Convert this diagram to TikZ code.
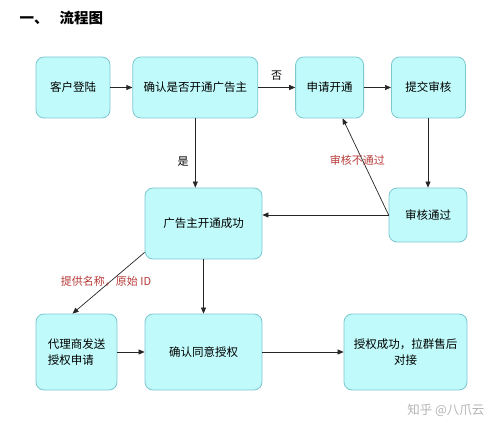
\documentclass[tikz,border=0pt]{standalone}
\usepackage{fontspec}
\setmainfont{Noto Sans CJK SC}
\usepackage{xcolor}
\usetikzlibrary{positioning,arrows.meta}
\definecolor{boxfill}{HTML}{C0FAFA}
\definecolor{boxline}{HTML}{7CC8D0}
\definecolor{notered}{HTML}{B83A3A}
\definecolor{markgray}{HTML}{B4B4B4}

\begin{document}
\begin{tikzpicture}[x=1pt, y=-1pt, node distance=22pt,
  box/.style={draw=boxline, fill=boxfill, rounded corners=8pt, line width=0.8pt,
    font=\fontsize{11.5}{16}\selectfont, align=center, inner sep=2pt},
  arr/.style={draw=black!85, line width=0.7pt, -{Triangle[length=6pt,width=5pt]}},
  note/.style={text=notered, font=\fontsize{11}{13}\selectfont, inner sep=1pt}]
\useasboundingbox (0,0) rectangle (500,430);
\node[font=\fontsize{14.5}{17}\selectfont\bfseries, anchor=west] (title) at (16,18) {一、\hspace{11pt}流程图};
\node[box, minimum width=74pt, minimum height=61pt] (login) at (73,87.5) {客户登陆};
\node[box, minimum width=125pt, minimum height=61pt, right=22pt of login] (confirm) {确认是否开通广告主};
\node[box, minimum width=68pt, minimum height=61pt, right=37pt of confirm] (apply) {申请开通};
\node[box, minimum width=74pt, minimum height=61pt, right=27pt of apply] (submit) {提交审核};
\node[box, minimum width=78pt, minimum height=54pt] (passed) at (428,215) {审核通过};
\node[box, minimum width=117pt, minimum height=71pt] (success) at (203.5,223.5) {广告主开通成功};
\node[box, minimum width=81pt, minimum height=76pt, align=left] (agent) at (76.5,352) {代理商发送\\授权申请};
\node[box, minimum width=117pt, minimum height=76pt] (agree) at (203.5,352) {确认同意授权};
\node[box, minimum width=123pt, minimum height=76pt] (done) at (405.5,352) {授权成功，拉群售后\\对接};
\node[text=markgray, font=\fontsize{12.5}{14}\selectfont, anchor=east] (mark) at (488,410) {知乎 @八爪云};
% connectors
\draw[arr] (login) -- (confirm);
\draw[arr] (confirm) -- node[above=3pt, font=\fontsize{11}{13}\selectfont] {否} (apply);
\draw[arr] (apply) -- (submit);
\draw[arr] (submit.south -| passed.north) -- (passed.north);
\draw[arr] (confirm.south) -- node[pos=0.63, left=3pt, font=\fontsize{11}{13}\selectfont] {是} (confirm.south |- success.north);
\draw[arr] (passed.west) -- (passed.west -| success.east);
\draw[arr] (passed.west) -- node[pos=0.57, xshift=-5pt, note] {审核不通过} ([xshift=13pt]apply.south);
\draw[arr] ([yshift=7pt]success.south west) -- node[pos=0.48, xshift=-4pt, note] {提供名称，原始 ID} ([xshift=-4pt]agent.north);
\draw[arr] (success) -- (agree);
\draw[arr] (agent) -- (agree);
\draw[arr] (agree) -- (done);
\end{tikzpicture}
\end{document}
